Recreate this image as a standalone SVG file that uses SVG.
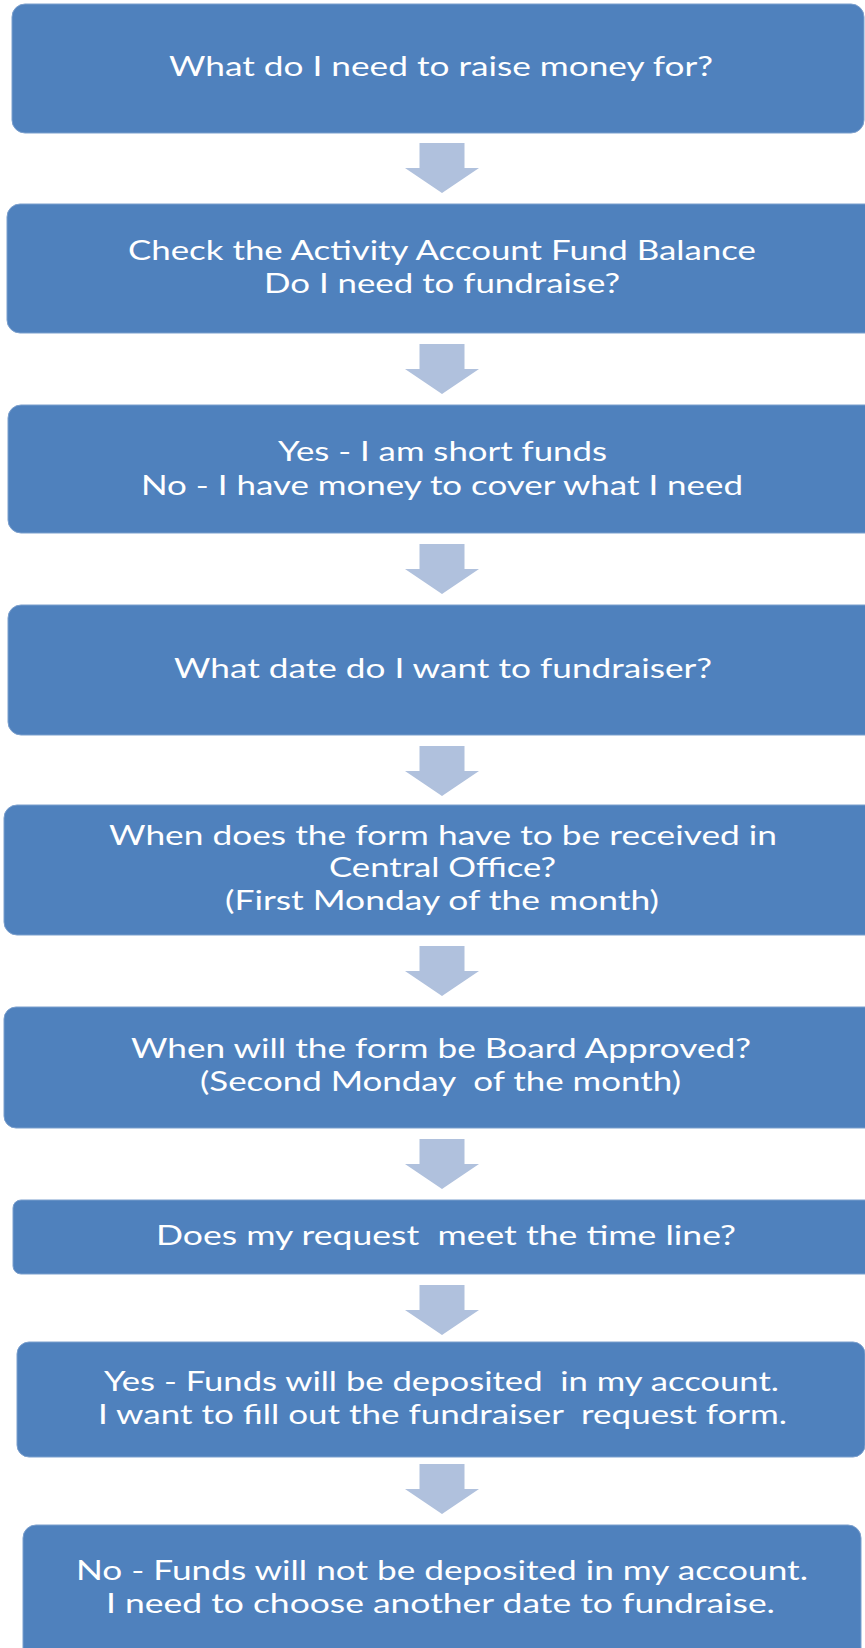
<svg xmlns="http://www.w3.org/2000/svg" width="865" height="1648" viewBox="0 0 865 1648">
<style>
.box{fill:#4F81BD;stroke:#7B9FCD;stroke-width:1}
.t{font-family:Lato,"Open Sans","Liberation Sans",sans-serif;font-size:26px;fill:#FFFFFF;text-anchor:middle;white-space:pre}
.arr{fill:#B0C1DD}
</style>
<defs>
<path id="dn" d="M-22.5,0 H22.5 V25 H37 L0,50 L-37,25 H-22.5 Z"/>
</defs>
<rect width="865" height="1648" fill="#FFFFFF"/>
<g id="connectors">
<use href="#dn" class="arr" x="442" y="143"/>
<use href="#dn" class="arr" x="442" y="344"/>
<use href="#dn" class="arr" x="442" y="544"/>
<use href="#dn" class="arr" x="442" y="746"/>
<use href="#dn" class="arr" x="442" y="946"/>
<use href="#dn" class="arr" x="442" y="1139"/>
<use href="#dn" class="arr" x="442" y="1285"/>
<use href="#dn" class="arr" x="442" y="1464"/>
</g>
<g id="n1">
<rect class="box" x="12" y="4" width="852" height="129" rx="13"/>
<text class="t" x="441" y="76" textLength="544" lengthAdjust="spacingAndGlyphs">What do I need to raise money for?</text>
</g>
<g id="n2">
<rect class="box" x="7" y="204" width="872" height="129" rx="13"/>
<text class="t" x="442" y="260" textLength="628" lengthAdjust="spacingAndGlyphs">Check the Activity Account Fund Balance</text>
<text class="t" x="442" y="293" textLength="356" lengthAdjust="spacingAndGlyphs">Do I need to fundraise?</text>
</g>
<g id="n3">
<rect class="box" x="8" y="405" width="872" height="128" rx="13"/>
<text class="t" x="442.5" y="461" textLength="329" lengthAdjust="spacingAndGlyphs">Yes - I am short funds</text>
<text class="t" x="442" y="495" textLength="602" lengthAdjust="spacingAndGlyphs">No - I have money to cover what I need</text>
</g>
<g id="n4">
<rect class="box" x="8" y="605" width="872" height="130" rx="13"/>
<text class="t" x="443" y="678" textLength="538" lengthAdjust="spacingAndGlyphs">What date do I want to fundraiser?</text>
</g>
<g id="n5">
<rect class="box" x="4" y="805" width="876" height="130" rx="13"/>
<text class="t" x="443" y="845" textLength="668" lengthAdjust="spacingAndGlyphs">When does the form have to be received in</text>
<text class="t" x="442.5" y="877" textLength="227" lengthAdjust="spacingAndGlyphs">Central Office?</text>
<text class="t" x="442" y="910" textLength="434" lengthAdjust="spacingAndGlyphs">(First Monday of the month)</text>
</g>
<g id="n6">
<rect class="box" x="4" y="1007" width="876" height="121" rx="12"/>
<text class="t" x="441" y="1058" textLength="620" lengthAdjust="spacingAndGlyphs">When will the form be Board Approved?</text>
<text class="t" x="440.5" y="1091" textLength="481" lengthAdjust="spacingAndGlyphs">(Second Monday  of the month)</text>
</g>
<g id="n7">
<rect class="box" x="13" y="1200" width="866" height="74" rx="8"/>
<text class="t" x="446" y="1245" textLength="580" lengthAdjust="spacingAndGlyphs">Does my request  meet the time line?</text>
</g>
<g id="n8">
<rect class="box" x="17" y="1342" width="848" height="115" rx="12"/>
<text class="t" x="441.5" y="1391" textLength="675" lengthAdjust="spacingAndGlyphs">Yes - Funds will be deposited  in my account.</text>
<text class="t" x="442.5" y="1424" textLength="689" lengthAdjust="spacingAndGlyphs">I want to fill out the fundraiser  request form.</text>
</g>
<g id="n9">
<rect class="box" x="23" y="1525" width="838" height="140" rx="13"/>
<text class="t" x="442" y="1580" textLength="732" lengthAdjust="spacingAndGlyphs">No - Funds will not be deposited in my account.</text>
<text class="t" x="440.5" y="1613" textLength="669" lengthAdjust="spacingAndGlyphs">I need to choose another date to fundraise.</text>
</g>
</svg>
